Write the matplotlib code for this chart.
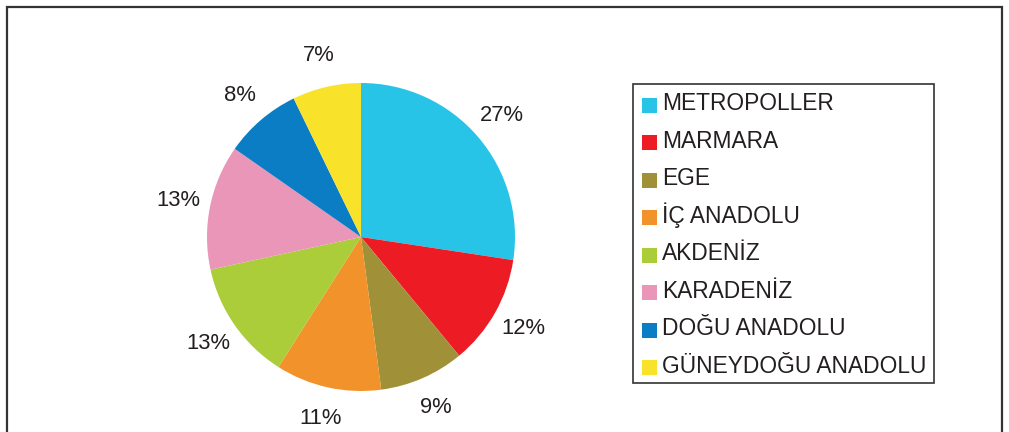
import matplotlib
matplotlib.use("Agg")
import matplotlib.pyplot as plt
from matplotlib.patches import Rectangle

plt.rcParams["font.family"] = ["Liberation Sans", "DejaVu Sans"]

W, H = 1009, 432
TXT = "#231f20"

regions = ["METROPOLLER", "MARMARA", "EGE", "İÇ ANADOLU", "AKDENİZ",
           "KARADENİZ", "DOĞU ANADOLU", "GÜNEYDOĞU ANADOLU"]
# slice sizes (labels show them rounded)
shares = [27.4, 11.6, 8.9, 11.1, 12.6, 13.1, 8.1, 7.2]
colors = ["#27c4e8", "#ed1c24", "#a09138", "#f2922a", "#abcd3a",
          "#ea96b9", "#0a7dc4", "#f9e32a"]

fig = plt.figure(figsize=(W / 100, H / 100), dpi=100)


def px(x, y):
    # pixel coords (from top-left) -> figure fraction
    return x / W, 1 - y / H


# outer frame (bottom edge runs off the picture)
fig.patches.append(Rectangle(px(7, 460), 995 / W, 453 / H, transform=fig.transFigure,
                             fill=False, edgecolor="#333333", linewidth=1.6))

# pie
cx, cy, r = 361, 237, 154
ax = fig.add_axes([(cx - r) / W, 1 - (cy + r) / H, 2 * r / W, 2 * r / H])
ax.pie(shares, colors=colors, startangle=90, counterclock=False,
       autopct=lambda p: f"{round(p)}%", pctdistance=1.21,
       wedgeprops=dict(linewidth=0),
       textprops=dict(fontsize=15.8, color=TXT))
ax.set_xlim(-1, 1)
ax.set_ylim(-1, 1)
ax.set_aspect("equal")

# legend box
x0, y0 = px(633, 383)
fig.patches.append(Rectangle((x0, y0), 301 / W, 299 / H, transform=fig.transFigure,
                             fill=False, edgecolor="#333333", linewidth=1.2))

row0, step = 105, 37.57
for i, (name, c) in enumerate(zip(regions, colors)):
    yc = row0 + i * step
    fig.patches.append(Rectangle(px(642, yc + 7.5), 15 / W, 15 / H,
                                 transform=fig.transFigure, facecolor=c, linewidth=0))
    fig.text(*px(662, yc + 5), name, fontsize=16.4, color=TXT, va="baseline", ha="left")

fig.savefig("out.png", dpi=100, facecolor="white")
